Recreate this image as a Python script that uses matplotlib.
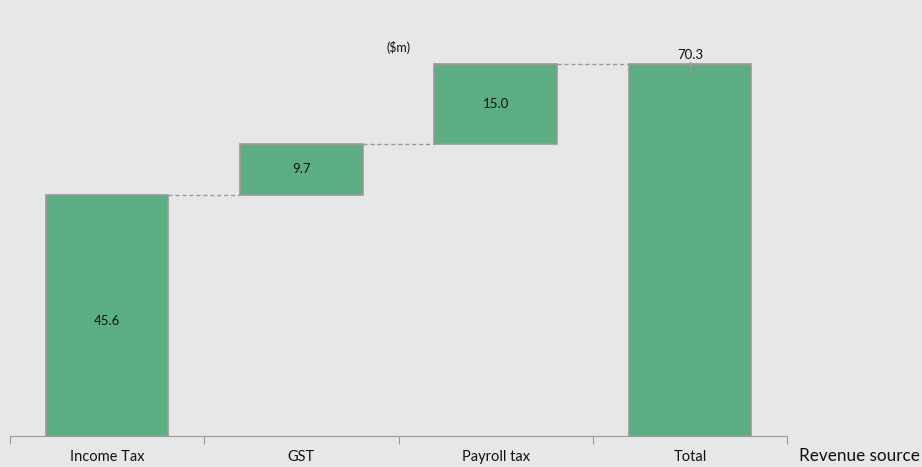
import numpy as np
import matplotlib.pyplot as plt

categories = ['Income Tax', 'GST', 'Payroll tax', 'Total']
changes = [45.6, 9.7, 15.0]
total = 70.3

bg = '#e6e7e9'
green = '#5bae82'
edge = '#9a9a9a'

plt.rcParams['font.family'] = ['Lato', 'DejaVu Sans']

ends = np.cumsum(changes)
starts = ends - np.array(changes)
bottoms = list(starts) + [0]
heights = list(changes) + [total]
x = np.arange(len(categories))
w = 0.63

fig = plt.figure(figsize=(9.22, 4.67), dpi=100, facecolor=bg)
ax = fig.add_axes([10 / 922, 31 / 467, 777 / 922, 426 / 467])
ax.set_facecolor(bg)

ax.bar(x, heights, w, bottom=bottoms, color=green, edgecolor=edge, linewidth=1.2, zorder=3)

# connectors
levels = list(ends)
for i in range(len(categories) - 1):
    ax.plot([x[i] + w / 2, x[i + 1] - w / 2], [levels[i], levels[i]],
            ls=(0, (3, 2)), color='#9a9a9a', lw=1, zorder=2)

for i in range(len(changes)):
    ax.text(x[i], bottoms[i] + heights[i] / 2 - (1 if i == 0 else 0), f'{changes[i]:.1f}',
            ha='center', va='center', fontsize=9.5, color='#111111', zorder=4)
ax.plot([x[-1], x[-1]], [total - 1.6, total + 0.4], color='#9a9a9a', lw=1, zorder=4)
ax.text(x[-1], total + 0.6, f'{total:.1f}', ha='center', va='bottom', fontsize=9.5,
        color='#111111', zorder=4)

ax.set_xlim(-0.5, 3.5)
ax.set_ylim(0, 426 / 5.285)
ax.set_xticks(np.arange(-0.5, 4.0, 1.0))
ax.set_xticklabels([])
ax.set_xticks(x, minor=True)
ax.set_xticklabels(categories, minor=True, fontsize=10.5, color='#111111')
ax.tick_params(axis='x', which='major', length=6, color='#9a9a9a', direction='out')
ax.tick_params(axis='x', which='minor', length=0, pad=10)
ax.set_yticks([])
for s in ['top', 'right', 'left']:
    ax.spines[s].set_visible(False)
ax.spines['bottom'].set_color('#9a9a9a')

fig.text(399 / 922, 1 - 48 / 467, '($m)', ha='center', va='center', fontsize=9, color='#111111')
fig.text(920 / 922, 1 - 456 / 467, 'Revenue source', ha='right', va='center', fontsize=12.3,
         color='#111111')

fig.savefig('out.png', dpi=100, facecolor=bg)
